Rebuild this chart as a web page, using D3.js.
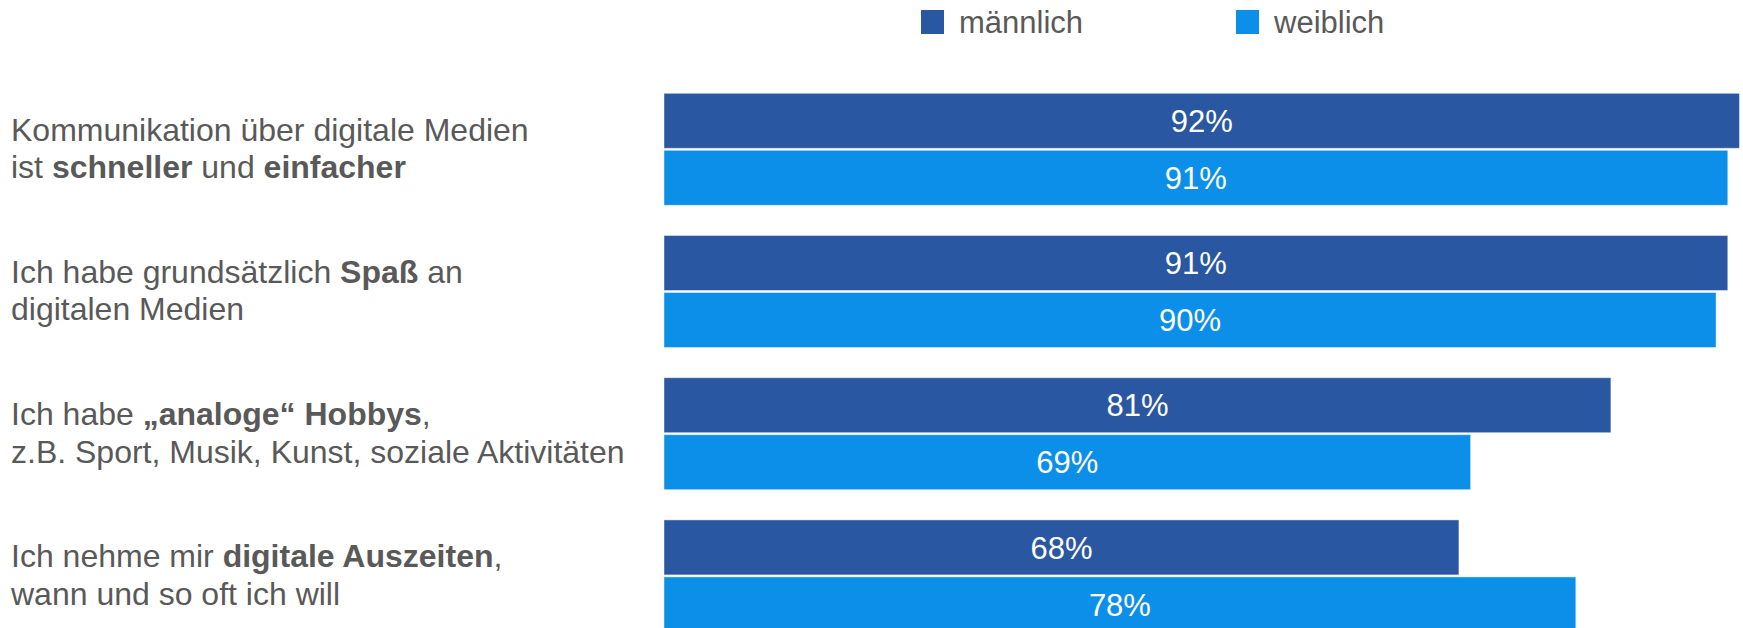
<!DOCTYPE html>
<html lang="de">
<head>
<meta charset="utf-8">
<script src="https://cdn.jsdelivr.net/npm/d3@7"></script>
<style>
  html, body { margin: 0; padding: 0; background: #ffffff; }
  svg { display: block; font-family: "Liberation Sans", Arial, sans-serif; }
</style>
</head>
<body>
<svg id="chart" width="1743" height="628"></svg>
<script>
// Statements (line breaks with "|", bold parts wrapped in **)
const categories = [
  "Kommunikation über digitale Medien|ist **schneller** und **einfacher**",
  "Ich habe grundsätzlich **Spaß** an|digitalen Medien",
  "Ich habe **„analoge“ Hobbys**,|z.B. Sport, Musik, Kunst, soziale Aktivitäten",
  "Ich nehme mir **digitale Auszeiten**,|wann und so oft ich will"
];
const seriesNames = ["männlich", "weiblich"];
const maleValues = [92, 91, 81, 68];
const femaleValues = [91, 90, 69, 78];
const seriesColors = ["#2A57A1", "#0B8FE8"];

const svg = d3.select("#chart");
const textColor = "#595959";

const rows = categories.map((c, i) => ({
  label: c,
  values: [
    { key: seriesNames[0], value: maleValues[i] },
    { key: seriesNames[1], value: femaleValues[i] }
  ]
}));

const x = d3.scaleLinear().domain([0, 100]).range([664, 1833]);

const y0 = d3.scaleBand()
  .domain(categories)
  .range([93.3, 631.9])
  .paddingInner(0.2124)
  .paddingOuter(0);

const y1 = d3.scaleBand()
  .domain(seriesNames)
  .range([0, y0.bandwidth()])
  .paddingInner(0.035)
  .paddingOuter(0);

const color = d3.scaleOrdinal().domain(seriesNames).range(seriesColors);

// Bars and value labels
const groups = svg.append("g").selectAll("g.group")
  .data(rows)
  .join("g")
  .attr("class", "group")
  .attr("transform", d => `translate(0,${y0(d.label)})`);

groups.selectAll("rect")
  .data(d => d.values)
  .join("rect")
  .attr("x", x(0))
  .attr("y", d => y1(d.key))
  .attr("width", d => x(d.value) - x(0))
  .attr("height", y1.bandwidth())
  .attr("fill", d => color(d.key))
  .attr("stroke", "rgba(255,255,255,0.45)")
  .attr("stroke-width", 1);

groups.selectAll("text.value")
  .data(d => d.values)
  .join("text")
  .attr("class", "value")
  .attr("x", d => (x(0) + x(d.value)) / 2)
  .attr("y", d => y1(d.key) + y1.bandwidth() / 2)
  .attr("dy", "0.36em")
  .attr("text-anchor", "middle")
  .attr("fill", "#ffffff")
  .attr("font-size", 31)
  .text(d => d.value + "%");

// Category labels with bold emphasis
const labels = svg.append("g").selectAll("text.cat")
  .data(rows)
  .join("text")
  .attr("class", "cat")
  .attr("fill", textColor)
  .attr("font-size", 32);

labels.each(function (d) {
  const center = y0(d.label) + y0.bandwidth() / 2;
  const lines = d.label.split("|");
  const t = d3.select(this);
  lines.forEach((line, li) => {
    const parts = line.split("**");
    parts.forEach((p, pi) => {
      if (!p) return;
      const ts = t.append("tspan").text(p);
      if (pi % 2 === 1) ts.attr("font-weight", "bold");
      if (pi === 0 || (pi === 1 && parts[0] === "")) {
        ts.attr("x", 11).attr("y", center - 8.5 + li * 37.5);
      }
    });
  });
});

// Legend
const legendPos = [921, 1236];
const legend = svg.append("g").selectAll("g.legend")
  .data(seriesNames)
  .join("g")
  .attr("class", "legend")
  .attr("transform", (d, i) => `translate(${legendPos[i]},0)`);

legend.append("rect")
  .attr("x", 0)
  .attr("y", 10)
  .attr("width", 23)
  .attr("height", 24)
  .attr("fill", d => color(d));

legend.append("text")
  .attr("x", 38)
  .attr("y", 33)
  .attr("fill", textColor)
  .attr("font-size", 31)
  .text(d => d);
</script>
</body>
</html>
